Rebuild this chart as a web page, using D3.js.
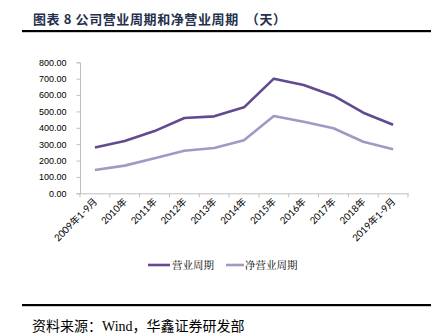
<!DOCTYPE html>
<html><head><meta charset="utf-8">
<script src="https://cdn.jsdelivr.net/npm/d3@7"></script>
<style>body{margin:0;background:#fff}svg{display:block}</style>
</head><body>
<svg id="c" width="444" height="336"></svg>
<script>
const categories = ["2009年1-9月","2010年","2011年","2012年","2013年","2014年","2015年","2016年","2017年","2018年","2019年1-9月"];
const operatingCycle = [280, 320, 380, 460, 470, 525, 700, 661, 596, 492, 419];
const netOperatingCycle = [142, 169, 214, 260, 277, 324, 472, 437, 397, 315, 269];
const yTicks = [0, 100, 200, 300, 400, 500, 600, 700, 800];
const seriesNames = ["营业周期", "净营业周期"];
const titleText = "图表 8 公司营业周期和净营业周期 （天）";
const sourceText = "资料来源：Wind，华鑫证券研发部";

const svg = d3.select("#c");
const colors = ["#614a8f", "#a597c4"];
const plotL = 80, plotR = 408, plotT = 62.3, plotB = 193.3;

svg.append("text").attr("x", 33).attr("y", 24)
  .attr("font-family", "'Noto Sans CJK SC', sans-serif").attr("font-weight", "bold")
  .attr("font-size", 13).attr("letter-spacing", 0.6).attr("xml:space", "preserve")
  .attr("fill", "#25304d").text(titleText.replace(" （", "  （"));
svg.append("rect").attr("x", 22).attr("y", 30).attr("width", 409).attr("height", 2.2).attr("fill", "#000");

const x = d3.scaleBand().domain(categories).range([plotL, plotR]);
const y = d3.scaleLinear().domain([0, 800]).range([plotB, plotT]);

const yAxis = svg.append("g").attr("transform", `translate(${plotL},0)`)
  .call(d3.axisLeft(y).tickValues(yTicks).tickFormat(d3.format(".2f")).tickSize(3.5).tickPadding(10));
yAxis.select(".domain").attr("stroke", "#bfbfbf");
yAxis.selectAll(".tick line").attr("stroke", "#bfbfbf");
yAxis.selectAll("text").attr("font-family", "'Liberation Sans', Arial, sans-serif").attr("font-size", 9).attr("fill", "#000");

const xAxis = svg.append("g").attr("transform", `translate(0,${plotB})`)
  .call(d3.axisBottom(x).tickSize(0).tickSizeOuter(0));
xAxis.select(".domain").attr("stroke", "#bfbfbf");
xAxis.selectAll(".tick text")
  .attr("font-family", "Lato, 'Noto Sans CJK SC', sans-serif").attr("font-size", 9.6).attr("fill", "#000")
  .attr("text-anchor", "end").attr("dy", 0).attr("y", 0)
  .attr("transform", "translate(3,9) rotate(-45)");
const bounds = categories.map(c => x(c)).concat([x(categories[categories.length - 1]) + x.bandwidth()]);
xAxis.selectAll(".btick").data(bounds).enter().append("line")
  .attr("x1", d => d).attr("x2", d => d).attr("y1", 0).attr("y2", 4)
  .attr("stroke", "#bfbfbf");

const line = d3.line().x((d, i) => x(categories[i]) + x.bandwidth() / 2).y(d => y(d));
[operatingCycle, netOperatingCycle].forEach((s, k) => {
  svg.append("path").datum(s).attr("d", line).attr("fill", "none")
    .attr("stroke", colors[k]).attr("stroke-width", 2.6).attr("stroke-linejoin", "round");
});

const lg = [{x: 148, w: 22, tx: 172}, {x: 226, w: 18, tx: 245}];
seriesNames.forEach((n, k) => {
  svg.append("line").attr("x1", lg[k].x).attr("x2", lg[k].x + lg[k].w).attr("y1", 265).attr("y2", 265)
    .attr("stroke", colors[k]).attr("stroke-width", 2.6);
  svg.append("text").attr("x", lg[k].tx).attr("y", 269)
    .attr("font-family", "'Noto Serif CJK SC', 'Noto Sans CJK SC', serif").attr("font-size", 10.5).attr("fill", "#000").text(n);
});

svg.append("rect").attr("x", 22).attr("y", 304).attr("width", 409).attr("height", 2.2).attr("fill", "#000");
svg.append("text").attr("x", 32).attr("y", 331)
  .attr("font-family", "'Liberation Serif', 'Noto Sans CJK SC', serif").attr("font-size", 14).attr("fill", "#000").text(sourceText);
</script>
</body></html>
